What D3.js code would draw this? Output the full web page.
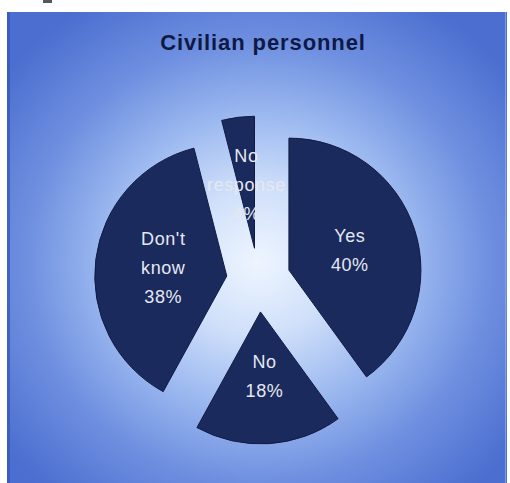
<!DOCTYPE html>
<html>
<head>
<meta charset="utf-8">
<script src="https://cdn.jsdelivr.net/npm/d3@7"></script>
<style>
  html, body { margin: 0; padding: 0; background: #ffffff; }
  svg { display: block; }
</style>
</head>
<body>
<svg id="chart" width="510" height="483"></svg>
<script>
// Survey answers of civilian personnel
const title = "Civilian personnel";
const categories = ["Yes", "No", "Don't know", "No response"];
const values = [40, 18, 38, 4];
const labelLines = [["Yes", "40%"], ["No", "18%"], ["Don't", "know", "38%"], ["No", "response", "4%"]];

const W = 510, H = 483;
const svg = d3.select("#chart");

// panel with a light centre fading to deep blue at the edges
const defs = svg.append("defs");
const grad = defs.append("radialGradient")
  .attr("id", "bg")
  .attr("gradientUnits", "userSpaceOnUse")
  .attr("cx", 258).attr("cy", 262).attr("r", 320)
  .attr("gradientTransform", "translate(258,262) scale(1,0.95) translate(-258,-262)");
[[0, "#eef5ff"], [0.24, "#d0e0fa"], [0.48, "#9cb9f0"], [0.72, "#6f90e0"], [1, "#4b6ed0"]]
  .forEach(([o, c]) => grad.append("stop").attr("offset", o).attr("stop-color", c));

const panel = { x0: 7, y0: 12, x1: 507, y1: 483 };
svg.append("rect")
  .attr("x", panel.x0).attr("y", panel.y0)
  .attr("width", panel.x1 - panel.x0).attr("height", panel.y1 - panel.y0)
  .attr("fill", "url(#bg)");
// darker rim along the left side, thin light line on the right
svg.append("rect").attr("x", panel.x0).attr("y", panel.y0)
  .attr("width", 3).attr("height", panel.y1 - panel.y0).attr("fill", "#3557bb").attr("opacity", 0.75);
svg.append("rect").attr("x", panel.x1 - 2).attr("y", panel.y0)
  .attr("width", 1).attr("height", panel.y1 - panel.y0).attr("fill", "#8aa6ea").attr("opacity", 0.8);
// small dark tab above the panel
svg.append("rect").attr("x", 43).attr("y", 0).attr("width", 9).attr("height", 3).attr("fill", "#55575c");

// title
svg.append("text")
  .attr("x", 263).attr("y", 50)
  .attr("text-anchor", "middle")
  .attr("font-family", "'Liberation Sans', Arial, sans-serif")
  .attr("font-weight", "bold")
  .attr("font-size", 22)
  .attr("letter-spacing", "0.9px")
  .attr("fill", "#0e1946")
  .text(title);

// exploded pie
const cx = 258.5, cy = 280;
const radius = 132, explode = 32, labelDist = 64, lineH = 29;

const pie = d3.pie().sort(null).startAngle(0).endAngle(2 * Math.PI);
const arcs = pie(values);
const arc = d3.arc().innerRadius(0).outerRadius(radius);

const g = svg.append("g").attr("transform", `translate(${cx},${cy})`);

const slices = g.selectAll("g.slice")
  .data(arcs)
  .join("g")
  .attr("class", "slice")
  .attr("transform", d => {
    const a = (d.startAngle + d.endAngle) / 2;
    return `translate(${explode * Math.sin(a)},${-explode * Math.cos(a)})`;
  });

slices.append("path")
  .attr("d", arc)
  .attr("fill", "#1b2a5c")
  .attr("stroke", "#111b44")
  .attr("stroke-width", 1);

slices.each(function (d, i) {
  const a = (d.startAngle + d.endAngle) / 2;
  const lx = labelDist * Math.sin(a), ly = -labelDist * Math.cos(a);
  const lines = labelLines[i];
  const t = d3.select(this).append("text")
    .attr("text-anchor", "middle")
    .attr("font-family", "'Liberation Sans', Arial, sans-serif")
    .attr("font-size", 18)
    .attr("letter-spacing", "0.6px")
    .attr("fill", "#e4e8f3");
  lines.forEach((s, k) => {
    t.append("tspan")
      .attr("x", lx)
      .attr("y", ly + (k - (lines.length - 1) / 2) * lineH + 6.5)
      .text(s);
  });
});
</script>
</body>
</html>
